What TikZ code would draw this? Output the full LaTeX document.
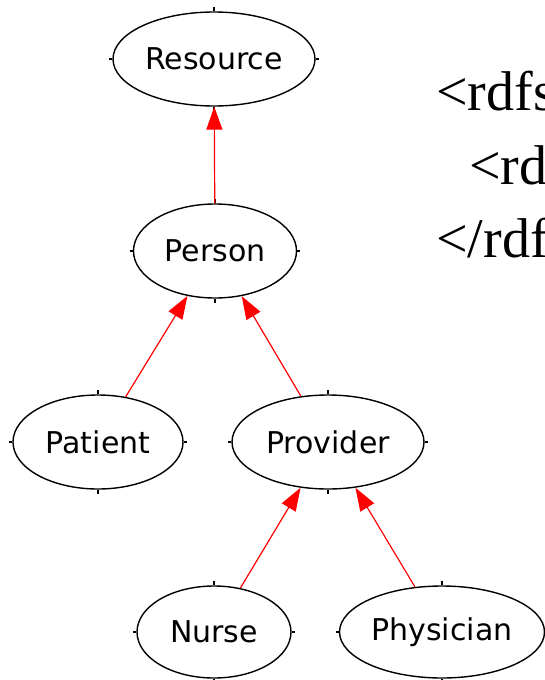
\documentclass[tikz,border=0pt]{standalone}
\usepackage{fontspec}
\setmainfont{Liberation Serif}
\newfontfamily\classfont{DejaVu Sans}
\usetikzlibrary{shapes.geometric,arrows.meta}
\begin{document}
\begin{tikzpicture}[x=1pt,y=-1pt,
  cls/.style={ellipse, draw=black, line width=1.4pt, inner sep=0pt,
    font=\classfont\fontsize{30}{36}\selectfont},
  isa/.style={draw=red, line width=1.2pt,
    -{Triangle[length=23pt,width=16pt]}},
  tick/.style={draw=black, line width=1.2pt},
  code/.style={anchor=base west, inner sep=0pt,
    font=\fontsize{56}{66}\selectfont}]
\useasboundingbox (0,0) rectangle (545,680);
\clip (0,0) rectangle (545,680);

% class hierarchy
\node[cls, minimum width=202pt, minimum height=94pt] (resource)  at (214,59)  {Resource};
\node[cls, minimum width=163pt, minimum height=94pt] (person)    at (215,251) {Person};
\node[cls, minimum width=170pt, minimum height=94pt] (patient)   at (98,442)  {Patient};
\node[cls, minimum width=192pt, minimum height=94pt] (provider)  at (328,442) {Provider};
\node[cls, minimum width=154pt, minimum height=92pt] (nurse)     at (214,632) {Nurse};
\node[cls, minimum width=205pt, minimum height=92pt] (physician) at (442,632) {Physician};

% small port marks on each ellipse
\foreach \n in {resource,person,patient,provider,nurse,physician}{
  \draw[tick] (\n.north) -- ([yshift=4pt]\n.north);
  \draw[tick] (\n.south) -- ([yshift=-4pt]\n.south);
  \draw[tick] ([xshift=-3pt]\n.west) -- (\n.west);
  \draw[tick] ([xshift=3pt]\n.east) -- (\n.east);
}

% subclass edges
\draw[isa] (person) -- (resource);
\draw[isa] (patient) -- (person);
\draw[isa] (provider) -- (person);
\draw[isa] (nurse) -- (provider);
\draw[isa] (physician) -- (provider);

% RDF listing
\node[code] (l1) at (436,110) {<rdfs};
\node[code] (l2) at (469,184) {<rd};
\node[code] (l3) at (436,257) {</rdf};
\end{tikzpicture}
\end{document}
